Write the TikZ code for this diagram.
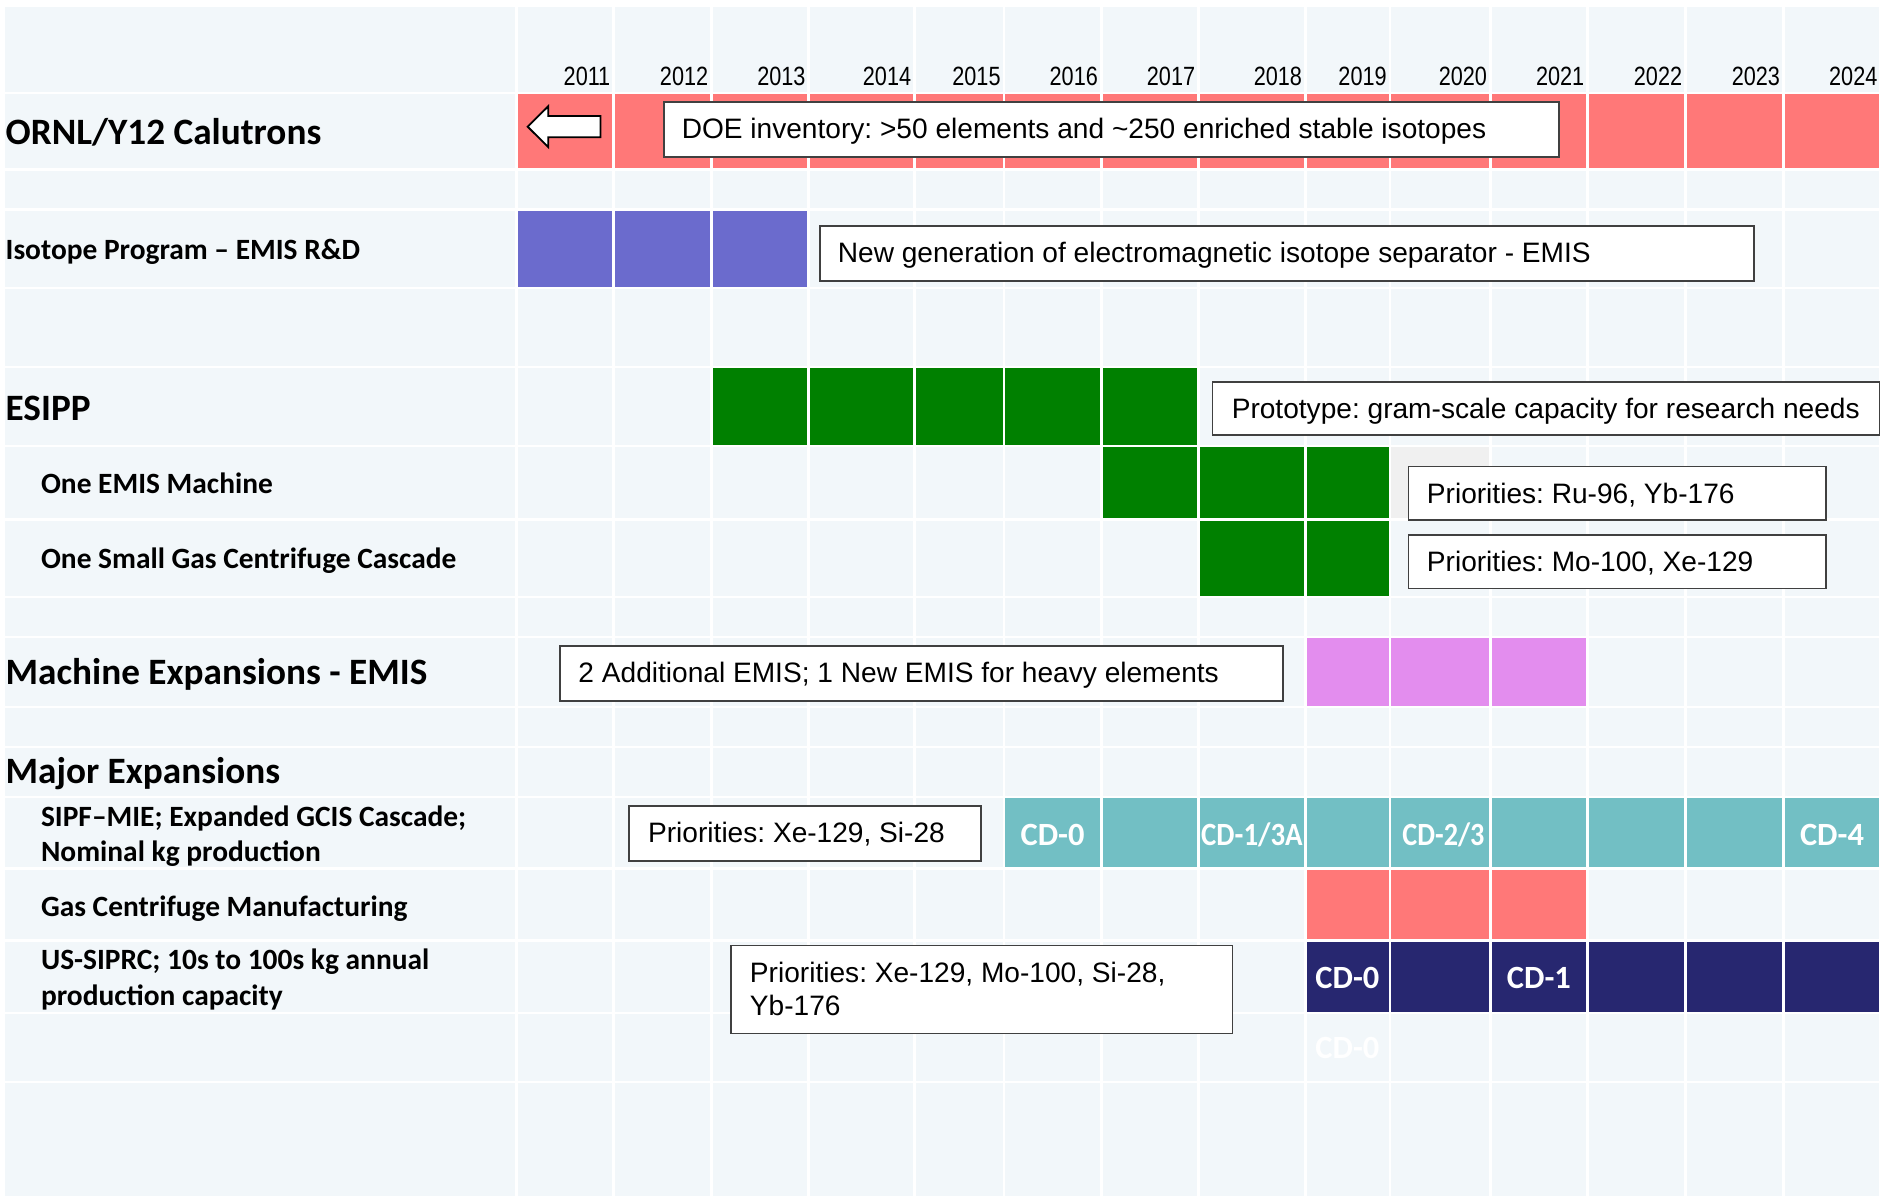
\documentclass[tikz,border=0pt]{standalone}
\usepackage{fontspec}
\setmainfont{Liberation Sans}
\newfontfamily\labfont{Carlito}
\newfontfamily\yrfont[FakeStretch=0.82]{Liberation Sans}
\frenchspacing
\definecolor{bgc}{RGB}{242,247,250}
\definecolor{redc}{RGB}{255,120,120}
\definecolor{purc}{RGB}{107,107,205}
\definecolor{grnc}{RGB}{0,128,0}
\definecolor{pinkc}{RGB}{227,141,238}
\definecolor{tealc}{RGB}{114,191,196}
\definecolor{navyc}{RGB}{39,39,112}
\definecolor{greyc}{RGB}{240,240,240}
\definecolor{edgec}{RGB}{64,64,64}
\def\colB{{430,511,592.5,673.5,761.5,836,917,998,1087,1157.5,1241,1322,1403.5,1485,1566.1}}
\def\rowT{{6,78.3,142,175.8,240.9,306.7,372.5,433.6,498.2,531.5,589.8,623.1,664.8,724.5,784.7,844.6,902.1}}
\def\rowB{{76.5,139.8,173.6,238.7,304.7,370.6,431.6,496.3,529.4,587.9,621,662.5,722.2,782.2,842.4,900,995.5}}
\newcommand\fillrun[4]{%
  \foreach \i in {#2,...,#3}{%
    \pgfmathsetmacro\xl{\colB[\i-1]+1.1}%
    \pgfmathsetmacro\xr{\colB[\i]-1.1}%
    \pgfmathsetmacro\yt{\rowT[#1]}%
    \pgfmathsetmacro\yb{\rowB[#1]}%
    \fill[#4] (\xl,\yt) rectangle (\xr,\yb);}}
\tikzset{
  boxst/.style={draw=edgec, line width=1.3pt, fill=white, inner sep=0pt},
  btext/.style={font=\fontsize{23.4}{27.7}\selectfont, inner sep=0pt, anchor=base west},
  biglab/.style={font=\labfont\bfseries\fontsize{31}{37}\selectfont, inner sep=0pt, anchor=base west},
  sublab/.style={font=\labfont\bfseries\fontsize{24.5}{28.6}\selectfont, inner sep=0pt, anchor=base west},
  yrlab/.style={font=\yrfont\fontsize{22}{26}\selectfont, inner sep=0pt, anchor=base east},
  cdlab/.style={font=\labfont\bfseries\fontsize{27}{30}\selectfont, text=white, inner sep=0pt, anchor=base},
  arrowst/.style={draw=black, fill=white, line width=1.5pt, line join=miter}
}
\newcommand\tbox[5]{%
  \pgfmathsetmacro\bw{#4-#2}\pgfmathsetmacro\bh{#5-#3}%
  \node[boxst, minimum width=\bw pt, minimum height=\bh pt] (#1) at ({(#2+#4)/2},{(#3+#5)/2}) {};}
\begin{document}
\begin{tikzpicture}[x=1pt,y=-1pt]
\useasboundingbox (0,0) rectangle (1568,996);
\fill[white] (0,0) rectangle (1568,996);
% background cells
\foreach \r in {0,...,16}{%
  \pgfmathsetmacro\yt{\rowT[\r]}\pgfmathsetmacro\yb{\rowB[\r]}%
  \fill[bgc] (4.5,\yt) rectangle (428.9,\yb);
  \fillrun{\r}{1}{14}{bgc}}
% coloured runs
\fillrun{1}{1}{14}{redc}
\fillrun{3}{1}{3}{purc}
\fillrun{5}{3}{7}{grnc}
\fillrun{6}{7}{9}{grnc}
\fillrun{6}{10}{10}{greyc}
\fillrun{7}{8}{9}{grnc}
\fillrun{9}{9}{11}{pinkc}
\fillrun{12}{6}{14}{tealc}
\fillrun{13}{9}{11}{redc}
\fillrun{14}{9}{14}{navyc}
% year labels
\foreach \i [evaluate=\i as \yr using int(2010+\i)] in {1,...,14}{%
  \pgfmathsetmacro\xr{\colB[\i]-2.6}%
  \node[yrlab] (y\yr) at (\xr,71.6) {\yr};}
% row labels
\node[biglab] (l1) at (4.5,120.7) {ORNL/Y12 Calutrons};
\node[sublab] (l2) at (4.5,216.5) {Isotope Program – EMIS R\&D};
\node[biglab] (l3) at (4.5,350.3) {ESIPP};
\node[sublab] (l4) at (34,410.8) {One EMIS Machine};
\node[sublab] (l5) at (34,473.8) {One Small Gas Centrifuge Cascade};
\node[biglab] (l6) at (4.5,570.4) {Machine Expansions - EMIS};
\node[biglab] (l7) at (4.5,652.3) {Major Expansions};
\node[sublab] (l8a) at (34,688.4) {SIPF–MIE; Expanded GCIS Cascade;};
\node[sublab] (l8b) at (34,717) {Nominal kg production};
\node[sublab] (l9) at (34,763.3) {Gas Centrifuge Manufacturing};
\node[sublab] (l10a) at (34,807.7) {US-SIPRC; 10s to 100s kg annual};
\node[sublab] (l10b) at (34,836.9) {production capacity};
% arrow
\draw[arrowst] (439.4,105.5) -- (456.5,88.5) -- (456.5,96.6) -- (500,96.6) -- (500,114.3) -- (456.5,114.3) -- (456.5,122.5) -- cycle;
% text boxes
\tbox{b1}{553}{85}{1298}{130.5}
\node[btext] (t1) at (567.5,115.2) {DOE inventory: >50 elements and \textasciitilde250 enriched stable isotopes};
\tbox{b2}{683}{188}{1460.5}{234}
\node[btext] (t2) at (697.5,218.7) {New generation of electromagnetic isotope separator - EMIS};
\tbox{b3}{1009.5}{318}{1565}{362.2}
\node[btext] (t3) at (1025.5,348.3) {Prototype: gram-scale capacity for research needs};
\tbox{b4}{1173}{388.6}{1520.3}{433}
\node[btext] (t4) at (1188,419.1) {Priorities: Ru-96, Yb-176};
\tbox{b5}{1173}{445.5}{1520.3}{490}
\node[btext] (t5) at (1188,476) {Priorities: Mo-100, Xe-129};
\tbox{b6}{466.5}{537.7}{1068.2}{583.5}
\node[btext] (t6) at (481.5,568.5) {2 Additional EMIS; 1 New EMIS for heavy elements};
\tbox{b7}{524}{671.2}{817}{717}
\node[btext] (t7) at (539.5,701.7) {Priorities: Xe-129, Si-28};
\tbox{b8}{608.7}{787.5}{1026.4}{860.5}
\node[btext] (t8a) at (624.3,818.3) {Priorities: Xe-129, Mo-100, Si-28,};
\node[btext] (t8b) at (624.3,846) {Yb-176};
% CD labels
\node[cdlab] (cd1) at (876.5,703.7) {CD-0};
\node[cdlab] (cd2) at (1042.5,703.7) {\scalebox{0.89}[1]{CD-1/3A}};
\node[cdlab] (cd3) at (1202,703.7) {\scalebox{0.87}[1]{CD-2/3}};
\node[cdlab] (cd4) at (1525.5,703.7) {CD-4};
\node[cdlab] (cd5) at (1122,823) {CD-0};
\node[cdlab] (cd6) at (1281.5,823) {CD-1};
\node[cdlab] (cd7) at (1122,881.3) {CD-0};
\end{tikzpicture}
\end{document}
